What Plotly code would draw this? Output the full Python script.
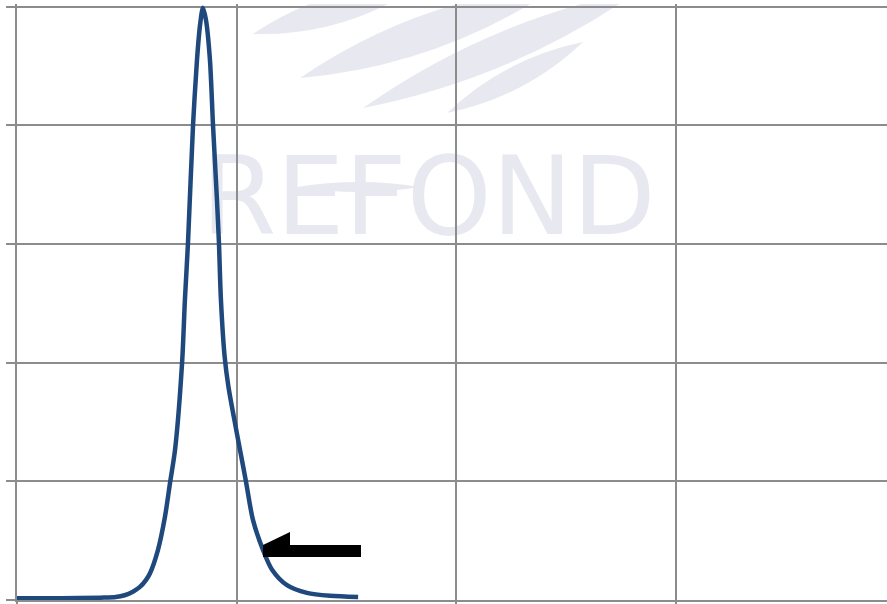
import plotly.graph_objects as go

# Spectrum-like curve (x in arbitrary units, grid every 100; y in %, grid every 20)
x_vals = [0, 20, 38, 45, 49, 52.8, 56.0, 58.8, 60.6, 64.2, 67.4, 69.7, 72.0, 75.2, 76.5, 77.9,
          80.2, 82.0, 83.4, 84.7, 86.1, 87.9, 89.3, 91.1, 92.0, 92.9, 94.6, 96.3, 98.8, 101.6,
          104.3, 107.5, 112.1, 116.2, 123.0, 132.1, 142.6, 155.4]
y_vals = [0.3, 0.3, 0.4, 0.5, 0.8, 1.4, 2.2, 3.4, 4.5, 8.4, 14.0, 19.7, 25.3, 39.9, 50.6, 60.2,
          80.0, 91.0, 96.9, 99.8, 97.7, 91.0, 80.0, 67.4, 60.2, 50.6, 41.0, 36.0, 30.8, 25.3,
          20.0, 13.5, 8.4, 5.1, 2.5, 1.2, 0.7, 0.5]

x_grid = [0, 100, 200, 300]
y_grid = [0, 20, 40, 60, 80, 100]

W, H = 887, 604
L, T, B = 17, 4, 4
X_MAX = (W - L) / 2.195
Y_MAX = (600 - T) / 5.935


def px(xp, yp):
    return (xp - L) / 2.195, (600 - yp) / 5.935


def lens(p1, p2, half):
    (x1, y1), (x2, y2) = p1, p2
    dx, dy = x2 - x1, y2 - y1
    n = (dx * dx + dy * dy) ** 0.5
    nx, ny = -dy / n * half * 2, dx / n * half * 2
    mx, my = (x1 + x2) / 2, (y1 + y2) / 2
    pts = [(x1, y1), (mx + nx, my + ny), (x2, y2), (mx - nx, my - ny)]
    d = [px(*p) for p in pts]
    return "M {},{} Q {},{} {},{} Q {},{} {},{} Z".format(
        d[0][0], d[0][1], d[1][0], d[1][1], d[2][0], d[2][1], d[3][0], d[3][1], d[0][0], d[0][1])


wm = "rgb(232,232,241)"
grid_c = "rgb(140,140,140)"

fig = go.Figure()
fig.add_trace(go.Scatter(x=x_vals, y=y_vals, mode="lines",
                         line=dict(color="rgb(31,73,125)", width=4.5, shape="spline", smoothing=0.8),
                         hoverinfo="skip", showlegend=False))

shapes = []
for p1, p2, h in [((253, 34), (420, -15), 14), ((300, 78), (560, -15), 18),
                  ((363, 108), (640, -10), 16), ((447, 113), (583, 42), 11),
                  ((297, 187), (420, 187), 5)]:
    shapes.append(dict(type="path", path=lens(p1, p2, h), xref="x", yref="y",
                       fillcolor=wm, line=dict(width=0), layer="below"))

x0, y0 = px(197, 228)
x1, y1 = px(660, 148)
shapes.append(dict(type="rect", xref="x", yref="y", x0=x0, y0=y0, x1=x1, y1=y1,
                   line=dict(width=0), fillcolor="rgba(0,0,0,0)", layer="below",
                   label=dict(text="REFOND", textposition="middle center",
                              font=dict(size=108, color=wm, family="DejaVu Sans"))))

# arrow
arrow_pts = [px(263, 557), px(263, 545), px(290, 532), px(290, 545), px(361, 545), px(361, 557)]
path = "M " + " L ".join("{},{}".format(a, b) for a, b in arrow_pts) + " Z"
shapes.append(dict(type="path", path=path, xref="x", yref="y", fillcolor="black",
                   line=dict(width=0), layer="above"))

fig.update_layout(
    width=W, height=H,
    margin=dict(l=L, r=0, t=T, b=B, pad=0),
    paper_bgcolor="white", plot_bgcolor="white",
    shapes=shapes,
    xaxis=dict(range=[0, X_MAX], tickmode="array", tickvals=x_grid, showticklabels=False,
               showgrid=True, gridcolor=grid_c, gridwidth=2, zeroline=False,
               showline=True, linecolor=grid_c, linewidth=2,
               ticks="outside", ticklen=5, tickcolor=grid_c, tickwidth=2, fixedrange=True),
    yaxis=dict(range=[0, Y_MAX], tickmode="array", tickvals=y_grid, showticklabels=False,
               showgrid=True, gridcolor=grid_c, gridwidth=2, zeroline=False,
               showline=True, linecolor=grid_c, linewidth=2,
               ticks="outside", ticklen=9, tickcolor=grid_c, tickwidth=2, fixedrange=True),
)

fig.write_html("out.html", config={"displayModeBar": False})

# remove the default page margin so the figure sits at the window's top-left corner
with open("out.html", "r", encoding="utf-8") as f:
    html = f.read()
html = html.replace("<head>", "<head><style>html,body{margin:0;padding:0;overflow:hidden;}</style>", 1)
with open("out.html", "w", encoding="utf-8") as f:
    f.write(html)
